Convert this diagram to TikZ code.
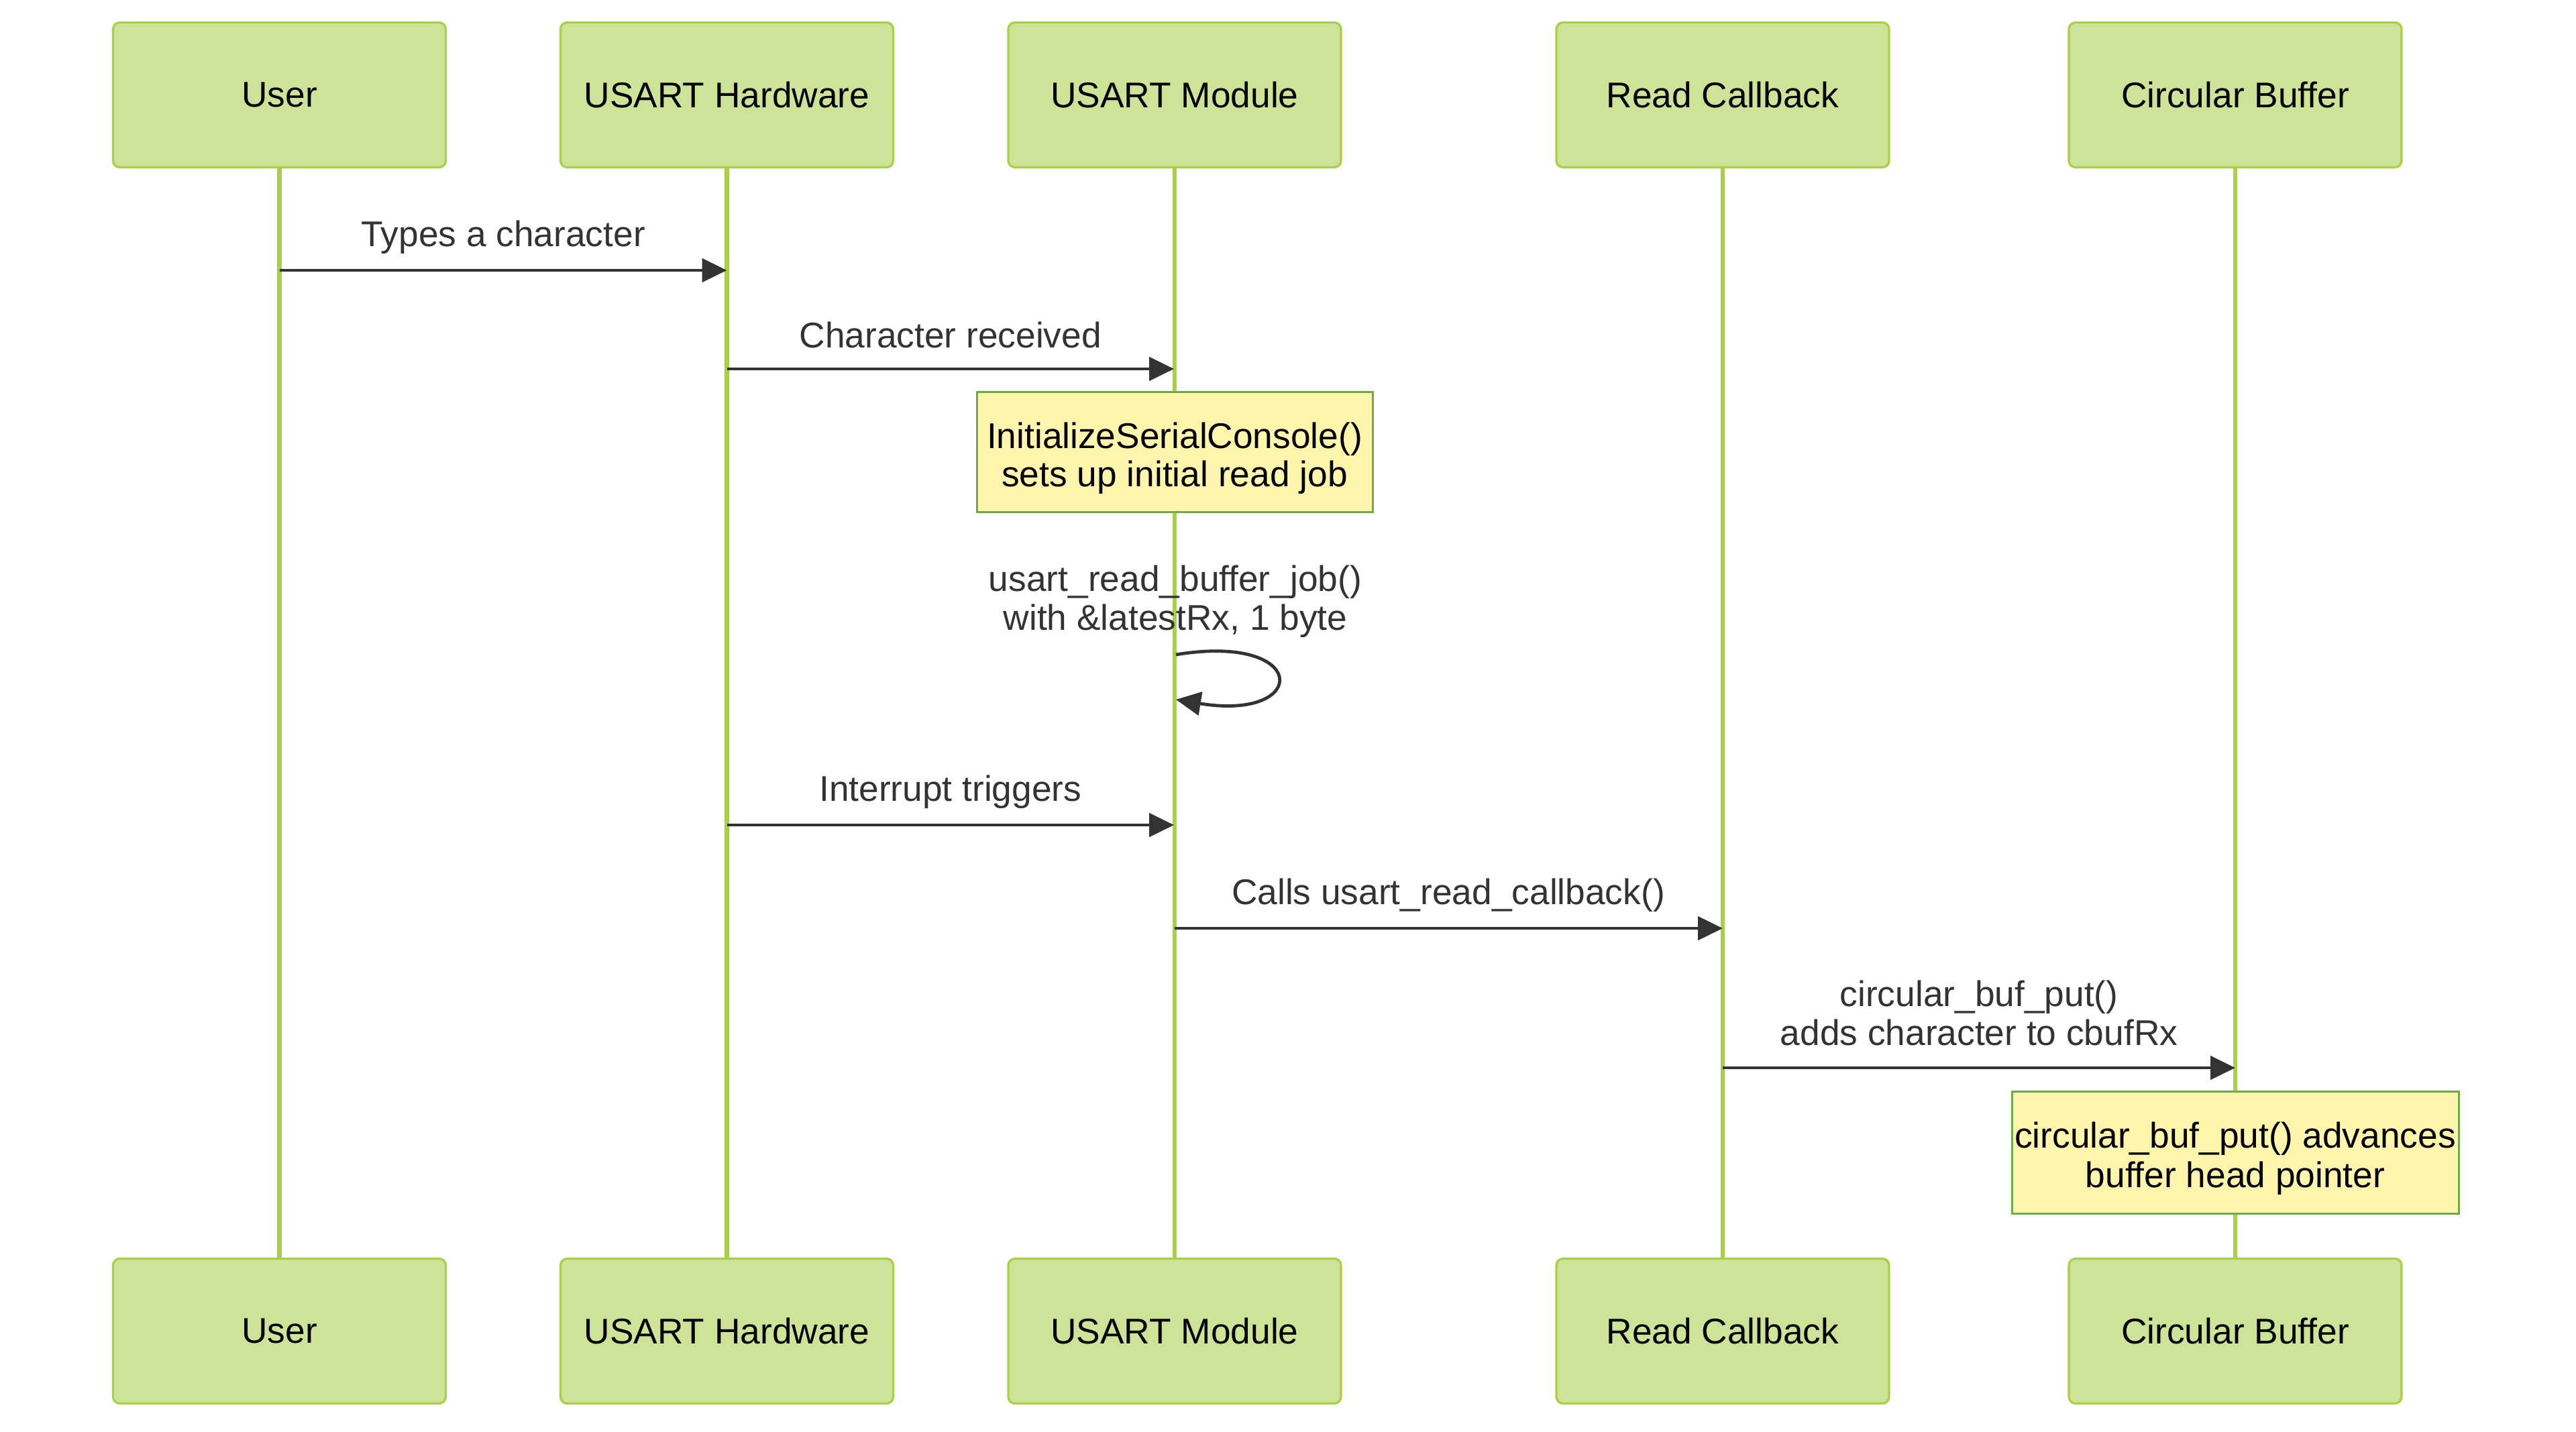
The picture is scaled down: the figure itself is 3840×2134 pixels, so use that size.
\documentclass[tikz,border=0pt]{standalone}
\usepackage{fontspec}
\setmainfont{Liberation Sans}
\usetikzlibrary{arrows.meta}
\definecolor{actfill}{HTML}{CDE498}
\definecolor{actline}{RGB}{168,208,72}
\definecolor{notefill}{HTML}{FFF5AD}
\definecolor{noteline}{HTML}{6EAA49}
\definecolor{msgc}{HTML}{333333}
\begin{document}
\begin{tikzpicture}[x=1pt,y=-1pt,
  every node/.style={font=\fontsize{53.3}{58}\selectfont},
  actor/.style={draw=actline, fill=actfill, line width=3.3pt, rounded corners=10pt,
    minimum width=496pt, minimum height=216pt, inner sep=0pt, text=black},
  notebox/.style={draw=noteline, fill=notefill, line width=3pt, inner sep=0pt},
  notetext/.style={anchor=base, text=black, inner sep=0pt},
  life/.style={draw=actline, line width=6.2pt},
  msg/.style={draw=msgc, line width=4.8pt, -{Triangle[length=37pt,width=35pt]}},
  lbl/.style={anchor=base, text=msgc, inner sep=0pt}]
\useasboundingbox (0,0) rectangle (3840,2134);
% actors (top)
\node[actor] (uT) at (416.5,141.5) {User};
\node[actor] (hT) at (1083.5,141.5) {USART Hardware};
\node[actor] (mT) at (1751,141.5) {USART Module};
\node[actor] (rT) at (2568,141.5) {Read Callback};
\node[actor] (cT) at (3332,141.5) {Circular Buffer};
% actors (bottom)
\node[actor] (uB) at (416.5,1984.5) {User};
\node[actor] (hB) at (1083.5,1984.5) {USART Hardware};
\node[actor] (mB) at (1751,1984.5) {USART Module};
\node[actor] (rB) at (2568,1984.5) {Read Callback};
\node[actor] (cB) at (3332,1984.5) {Circular Buffer};
% lifelines
\draw[life] (uT.south) -- (uB.north);
\draw[life] (hT.south) -- (hB.north);
\draw[life] (mT.south) -- (mB.north);
\draw[life] (rT.south) -- (rB.north);
\draw[life] (cT.south) -- (cB.north);
% notes
\node[notebox, minimum width=590pt, minimum height=179pt] (n1) at (1751,673.5) {};
\node[notetext] (n1a) at (1751,668) {InitializeSerialConsole()};
\node[notetext] (n1b) at (1751,725) {sets up initial read job};
\node[notebox, minimum width=666pt, minimum height=182pt] (n2) at (3332,1718) {};
\node[notetext] (n2a) at (3332,1711) {circular\_buf\_put() advances};
\node[notetext] (n2b) at (3332,1770) {buffer head pointer};
% message endpoints
\coordinate (a1) at (416.5,403);  \coordinate (b1) at (1083.5,403);
\coordinate (a2) at (1083.5,550); \coordinate (b2) at (1750,550);
\coordinate (s0) at (1753,976);   \coordinate (s1) at (1753,1043);
\coordinate (a4) at (1083.5,1230); \coordinate (b4) at (1750,1230);
\coordinate (a5) at (1751,1384);  \coordinate (b5) at (2568,1384);
\coordinate (a6) at (2568,1592);  \coordinate (b6) at (3332,1592);
% messages
\draw[msg] (a1) -- (b1);
\node[lbl] (t1) at (750,367) {Types a character};
\draw[msg] (a2) -- (b2);
\node[lbl] (t2) at (1416.75,518) {Character received};
\draw[msg] (s0) .. controls (1953,943) and (1953,1076) .. (s1);
\node[lbl] (t3a) at (1752,881) {usart\_read\_buffer\_job()};
\node[lbl] (t3b) at (1752,939) {with \&latestRx, 1 byte};
\draw[msg] (a4) -- (b4);
\node[lbl] (t4) at (1416.75,1194) {Interrupt triggers};
\draw[msg] (a5) -- (b5);
\node[lbl] (t5) at (2159,1348) {Calls usart\_read\_callback()};
\draw[msg] (a6) -- (b6);
\node[lbl] (t6a) at (2950,1500) {circular\_buf\_put()};
\node[lbl] (t6b) at (2950,1558) {adds character to cbufRx};
\end{tikzpicture}
\end{document}
